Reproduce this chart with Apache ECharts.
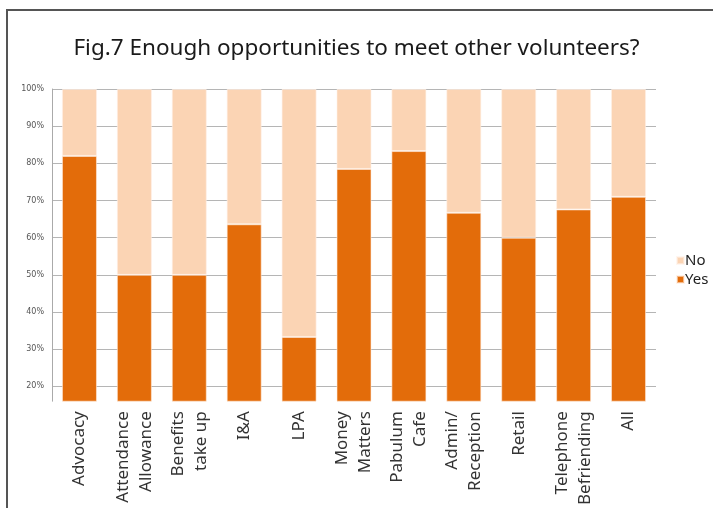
<!DOCTYPE html>
<html>
<head>
<meta charset="utf-8">
<script src="https://cdn.jsdelivr.net/npm/echarts@6/dist/echarts.min.js"></script>
<style>html,body{margin:0;padding:0;background:#fff;}#chart{width:713px;height:508px;}</style>
</head>
<body>
<div id="chart"></div>
<script>
const titleText = 'Fig.7 Enough opportunities to meet other volunteers?';
const categories = ['Advocacy', 'Attendance\nAllowance', 'Benefits\ntake up', 'I&A', 'LPA', 'Money\nMatters', 'Pabulum\nCafe', 'Admin/\nReception', 'Retail', 'Telephone\nBefriending', 'All'];
const yesValues = [82, 50, 50, 63.6, 33.3, 78.5, 83.3, 66.7, 60, 67.6, 71];
const noValues = [18, 50, 50, 36.4, 66.7, 21.5, 16.7, 33.3, 40, 32.4, 29];
const seriesNames = ['Yes', 'No'];
const legendOrder = ['No', 'Yes'];

const gridColors = ['rgba(0,0,0,0)', '#b5b5b5', '#b5b5b5', '#b5b5b5', '#b5b5b5', '#b5b5b5', '#b5b5b5', '#b5b5b5', '#b5b5b5', '#b5b5b5'];

const chart = echarts.init(document.getElementById('chart'), null, {renderer: 'canvas'});
chart.setOption({
  animation: false,
  backgroundColor: '#fff',
  title: {
    text: titleText,
    left: 'center',
    top: 32,
    textStyle: {fontFamily: 'Noto Sans', fontSize: 22.5, fontWeight: 'normal', color: '#1a1a1a'}
  },
  graphic: [{
    type: 'rect',
    shape: {x: 7, y: 10, width: 760, height: 560},
    style: {fill: 'none', stroke: '#555', lineWidth: 2},
    silent: true
  }],
  legend: {
    data: legendOrder,
    orient: 'vertical',
    left: 671,
    top: 248,
    itemWidth: 7,
    itemHeight: 7,
    itemGap: 4,
    icon: 'rect',
    textStyle: {fontFamily: 'Noto Sans', fontSize: 15, color: '#222', padding: [0, 0, 0, -4]}
  },
  grid: {left: 52, right: 57, top: 89, bottom: 106, containLabel: false},
  xAxis: {
    type: 'category',
    data: categories,
    axisLine: {show: false},
    axisTick: {show: false},
    axisLabel: {
      rotate: 90,
      interval: 0,
      margin: 10,
      fontFamily: 'Noto Sans',
      fontSize: 17,
      lineHeight: 23,
      color: '#333'
    }
  },
  yAxis: {
    type: 'value',
    min: 16,
    max: 100,
    splitNumber: 8,
    axisLine: {show: true, lineStyle: {color: '#aaa', width: 1}},
    axisTick: {show: false},
    splitLine: {show: true, lineStyle: {color: gridColors, width: 1}},
    axisLabel: {
      margin: 8,
      fontFamily: 'DejaVu Sans',
      fontSize: 8,
      color: '#555',
      formatter: function (v) { return (Math.round(v) % 10 === 0) ? v + '%' : ''; }
    }
  },
  series: [
    {
      name: seriesNames[0],
      type: 'bar',
      stack: 'total',
      barWidth: 35,
      data: yesValues,
      itemStyle: {color: '#E36C0A', borderColor: 'rgba(255,235,220,0.6)', borderWidth: 1}
    },
    {
      name: seriesNames[1],
      type: 'bar',
      stack: 'total',
      barWidth: 35,
      data: noValues,
      itemStyle: {color: '#FBD4B4', borderColor: 'rgba(255,240,230,0.6)', borderWidth: 1}
    }
  ]
});
</script>
</body>
</html>
